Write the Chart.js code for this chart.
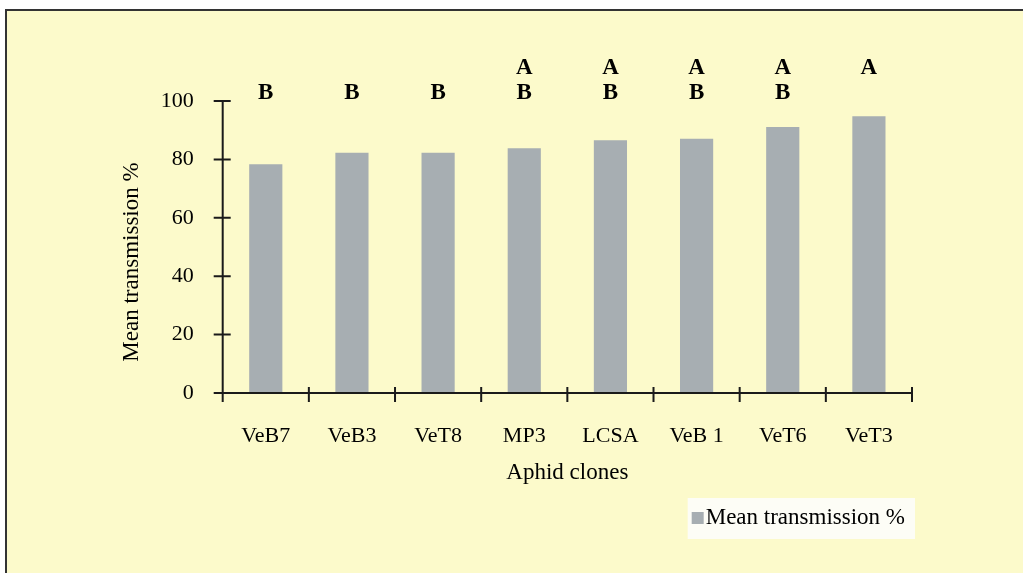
<!DOCTYPE html>
<html>
<head>
<meta charset="utf-8">
<script src="https://cdn.jsdelivr.net/npm/chart.js@4.4.1/dist/chart.umd.min.js"></script>
<style>
  html, body { margin: 0; padding: 0; background: #ffffff; }
  canvas { display: block; }
</style>
</head>
<body>
<canvas id="c" width="1023" height="573"></canvas>
<script>
// ---- data ----
const categories = ['VeB7', 'VeB3', 'VeT8', 'MP3', 'LCSA', 'VeB 1', 'VeT6', 'VeT3'];
const meanTransmission = [78.3, 82.3, 82.3, 83.8, 86.6, 87.1, 91.1, 94.8];
const groupA = ['', '', '', 'A', 'A', 'A', 'A', 'A'];
const groupB = ['B', 'B', 'B', 'B', 'B', 'B', 'B', ''];
const yTicks = [0, 20, 40, 60, 80, 100];
const seriesLabel = 'Mean transmission %';
const xTitle = 'Aphid clones';
const yTitle = 'Mean transmission %';

const SERIF = '"Liberation Serif", "Times New Roman", serif';
const BAR = '#a7aeb2';
const BG = '#fcfacb';
const AXIS = '#1a1a1a';

const frame = {
  id: 'frame',
  beforeDraw(chart) {
    const ctx = chart.ctx;
    ctx.save();
    ctx.fillStyle = '#ffffff';
    ctx.fillRect(0, 0, chart.width, chart.height);
    ctx.fillStyle = BG;
    ctx.fillRect(7, 11, chart.width - 7, chart.height - 11);
    ctx.strokeStyle = '#333333';
    ctx.lineWidth = 2;
    ctx.beginPath();
    ctx.moveTo(6, chart.height);
    ctx.lineTo(6, 10);
    ctx.lineTo(chart.width, 10);
    ctx.stroke();
    ctx.restore();
  }
};

const axesAndMarks = {
  id: 'axesAndMarks',
  afterDatasetsDraw(chart) {
    const ctx = chart.ctx;
    const x = chart.scales.x, y = chart.scales.y;
    const y0 = y.getPixelForValue(0);
    const yTop = y.getPixelForValue(100);
    const left = chart.chartArea.left, right = chart.chartArea.right;
    const step = x.getPixelForValue(1) - x.getPixelForValue(0);
    ctx.save();
    ctx.strokeStyle = AXIS;
    ctx.lineWidth = 2;
    ctx.beginPath();
    // y axis
    ctx.moveTo(left, yTop);
    ctx.lineTo(left, y0 + 9);
    yTicks.forEach(v => {
      const p = y.getPixelForValue(v);
      ctx.moveTo(left - 9, p);
      ctx.lineTo(left + 8, p);
    });
    // x axis
    ctx.moveTo(left - 9, y0);
    ctx.lineTo(right, y0);
    for (let i = 1; i <= categories.length; i++) {
      const px = x.getPixelForValue(i - 1) + step / 2;
      ctx.moveTo(px, y0 - 6);
      ctx.lineTo(px, y0 + 9);
    }
    ctx.stroke();

    // y axis title
    ctx.fillStyle = '#000';
    ctx.save();
    ctx.translate(131.5, 262);
    ctx.rotate(-Math.PI / 2);
    ctx.font = '23px ' + SERIF;
    ctx.textAlign = 'center';
    ctx.textBaseline = 'middle';
    ctx.fillText(yTitle, 0, 0);
    ctx.restore();

    // significance letters
    ctx.font = 'bold 23px ' + SERIF;
    ctx.textAlign = 'center';
    ctx.textBaseline = 'middle';
    categories.forEach((c, i) => {
      const px = x.getPixelForValue(i);
      if (groupA[i]) ctx.fillText(groupA[i], px, yTop - 33);
      if (groupB[i]) ctx.fillText(groupB[i], px, yTop - 8);
    });

    // legend
    const ds = chart.data.datasets[0];
    ctx.font = '23px ' + SERIF;
    ctx.textAlign = 'left';
    const tw = ctx.measureText(ds.label).width;
    const tx = 905 - tw;
    ctx.fillStyle = '#fdfdf6';
    ctx.fillRect(tx - 18, 498, tw + 28, 41);
    ctx.fillStyle = ds.backgroundColor;
    ctx.fillRect(tx - 14, 512, 12, 12);
    ctx.fillStyle = '#000';
    ctx.fillText(ds.label, tx, 518);
    ctx.restore();
  }
};

new Chart(document.getElementById('c'), {
  type: 'bar',
  data: {
    labels: categories,
    datasets: [{
      label: seriesLabel,
      data: meanTransmission,
      backgroundColor: BAR,
      borderWidth: 0,
      barPercentage: 0.385,
      categoryPercentage: 1.0
    }]
  },
  options: {
    responsive: false,
    devicePixelRatio: 1,
    animation: false,
    layout: { padding: { top: 101, left: 114, right: 111, bottom: 82 } },
    plugins: {
      legend: { display: false },
      tooltip: { enabled: false },
      title: { display: false }
    },
    scales: {
      x: {
        grid: { display: false },
        border: { display: false },
        ticks: {
          color: '#000',
          font: { family: SERIF, size: 22 },
          padding: 22,
          maxRotation: 0,
          autoSkip: false
        },
        title: {
          display: true,
          text: xTitle,
          color: '#000',
          font: { family: SERIF, size: 23 }
        },
        afterFit(scale) { scale.height = 98; }
      },
      y: {
        min: 0,
        max: 100,
        grid: { display: false },
        border: { display: false },
        afterBuildTicks(scale) { scale.ticks = yTicks.map(v => ({ value: v })); },
        ticks: {
          color: '#000',
          font: { family: SERIF, size: 22 },
          padding: 21
        },
        title: { display: false, text: yTitle },
        afterFit(scale) { scale.width = 108.7; }
      }
    }
  },
  plugins: [frame, axesAndMarks]
});
</script>
</body>
</html>
